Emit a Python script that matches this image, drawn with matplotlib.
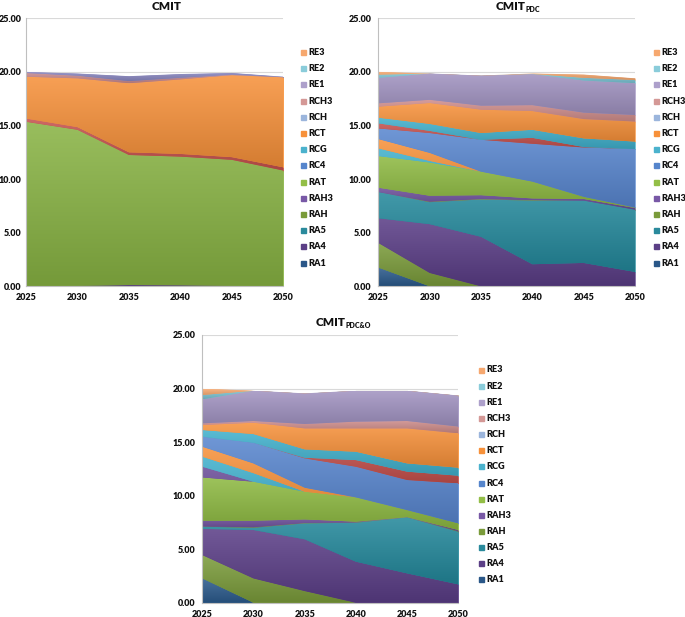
import numpy as np
import matplotlib.pyplot as plt
from matplotlib.colors import to_rgb
from matplotlib.patches import Rectangle

plt.rcParams['font.family'] = ['Lato', 'DejaVu Sans']

years = [2025, 2030, 2035, 2040, 2045, 2050]

# --- CMIT (layer thicknesses, bottom -> top)
cmit_ra4 = [0.0, 0.05, 0.12, 0.10, 0.05, 0.0]
cmit_rat = [15.35, 14.55, 12.13, 12.0, 11.75, 10.8]
cmit_rc2 = [0.3, 0.25, 0.25, 0.25, 0.25, 0.3]
cmit_rct = [3.9, 4.55, 6.44, 6.95, 7.65, 8.4]
cmit_rch3 = [0.35, 0.25, 0.2, 0.15, 0.05, 0.02]
cmit_rch = [0.1, 0.2, 0.46, 0.35, 0.15, 0.03]

# --- CMIT_PDC
pdc_ra1 = [1.75, 0, 0, 0, 0, 0]
pdc_rah = [2.3, 1.25, 0, 0, 0, 0]
pdc_ra4 = [2.3, 4.55, 4.62, 2.06, 2.18, 1.34]
pdc_ra5 = [2.45, 2.05, 3.48, 5.94, 5.82, 5.81]
pdc_rah_b = [0, 0.05, 0.05, 0.05, 0, 0]
pdc_rah3 = [0.4, 0.55, 0.35, 0.15, 0.15, 0.15]
pdc_rat = [2.95, 3.1, 2.2, 1.57, 0.2, 0.05]
pdc_rcg = [0.72, 0.15, 0, 0, 0, 0]
pdc_rct = [0.87, 0.75, 0, 0, 0, 0]
pdc_rc4 = [0.99, 1.85, 2.97, 3.53, 4.6, 5.45]
pdc_rc2 = [0.47, 0.2, 0, 0.55, 0.05, 0]
pdc_rcg_b = [0.53, 0.65, 0.63, 0.75, 0.8, 0.7]
pdc_rct_b = [1.03, 1.95, 2.18, 1.75, 1.8, 1.87]
pdc_rch3 = [0.31, 0.3, 0.37, 0.55, 0.6, 0.61]
pdc_re1 = [2.38, 2.45, 2.81, 2.9, 3.0, 2.97]
pdc_re2 = [0.3, 0, 0, 0.02, 0.25, 0.3]
pdc_re3 = [0.25, 0, 0, 0.03, 0.3, 0.15]

# --- CMIT_PDC&O
pdco_ra1 = [2.27, 0, 0, 0, 0, 0]
pdco_rah = [2.18, 2.27, 1.09, 0, 0, 0]
pdco_ra4 = [2.45, 4.52, 4.83, 3.83, 2.74, 1.71]
pdco_ra5 = [0.2, 0.21, 1.49, 3.64, 5.23, 4.92]
pdco_rah_b = [0.03, 0.05, 0.04, 0.03, 0, 0.05]
pdco_rah3 = [0.53, 0.61, 0.33, 0.07, 0.03, 0.11]
pdco_rat = [4.04, 3.64, 2.59, 2.27, 0.65, 0.62]
pdco_rah3_b = [1.0, 0, 0, 0, 0, 0]
pdco_rcg = [0.94, 0.8, 0, 0, 0, 0]
pdco_rct = [0.93, 0.91, 0.37, 0, 0, 0]
pdco_rc4 = [0.93, 1.93, 2.74, 2.86, 2.81, 3.74]
pdco_rc2 = [0, 0, 0.06, 0.62, 0.78, 0.71]
pdco_rcg_b = [0.63, 0.81, 0.78, 0.78, 0.77, 0.75]
pdco_rct_b = [0.47, 1.06, 1.96, 2.18, 3.27, 3.21]
pdco_rch3 = [0.15, 0.16, 0.41, 0.63, 0.69, 0.63]
pdco_re1 = [2.24, 2.83, 2.86, 2.89, 2.83, 2.9]
pdco_re2 = [0.41, 0, 0, 0, 0, 0]
pdco_re3 = [0.59, 0, 0, 0, 0, 0]

legend_labels = ['RE3', 'RE2', 'RE1', 'RCH3', 'RCH', 'RCT', 'RCG',
                 'RC4', 'RAT', 'RAH3', 'RAH', 'RA5', 'RA4', 'RA1']
legend_colors = ['#F6A86F', '#8ACCDA', '#ADA0CB', '#D49896', '#9BB5DC',
                 '#F7913A', '#4BB2CD', '#5585CC', '#93BE47', '#7858A6',
                 '#7A9B3A', '#2A8A9C', '#5B3F86', '#2A5788']

# layer colours
c_ra1, c_rah, c_ra4, c_ra5 = '#2B5A8C', '#7A9B3A', '#5A3D86', '#23889B'
c_rah3, c_rat, c_rcg, c_rct = '#6A4C98', '#8DB941', '#40B0CC', '#F7913A'
c_rc4, c_rc2, c_rch3, c_re1 = '#5886CF', '#C4504C', '#CE8C8A', '#A092C0'
c_re2, c_re3 = '#7CC4D4', '#F6A86F'

W, H = 685, 617
fig = plt.figure(figsize=(W / 100, H / 100), dpi=100)


def add_axes(left, right, top, bottom):
    return fig.add_axes([left / W, 1 - bottom / H, (right - left) / W, (bottom - top) / H])


def style(ax, ypad=5):
    ax.set_xlim(2025, 2050)
    ax.set_ylim(0, 25)
    ax.set_xticks(years)
    ax.set_yticks([0, 5, 10, 15, 20, 25])
    ax.set_yticklabels(['%.2f' % v for v in [0, 5, 10, 15, 20, 25]])
    ax.grid(axis='y', color='#D9D9D9', lw=0.8)
    ax.set_axisbelow(True)
    for s in ['top', 'right']:
        ax.spines[s].set_visible(False)
    ax.spines['left'].set_color('#BFBFBF')
    ax.spines['bottom'].set_color('#BFBFBF')
    ax.tick_params(length=0, labelsize=6.5, colors='#111111', pad=5)
    ax.tick_params(axis='y', pad=ypad)
    for lab in ax.get_xticklabels() + ax.get_yticklabels():
        lab.set_fontweight('heavy')


def shade(col):
    # Excel-like vertical gradient: lighter on top, darker at the bottom
    c = np.array(to_rgb(col))
    top = c + (1 - c) * 0.14
    bot = c * 0.86
    t = np.linspace(0, 1, 64)[:, None]
    return (top * (1 - t) + bot * t)[:, None, :]


def draw(ax, layers, colors, ypad=5):
    polys = ax.stackplot(years, *layers, colors=colors, linewidth=0)
    for p, c in zip(polys, colors):
        p.set_edgecolor(c)
        p.set_linewidth(0.3)
        path = p.get_paths()[0]
        ext = path.get_extents()
        if ext.height <= 0:
            continue
        im = ax.imshow(shade(c), extent=[2025, 2050, ext.y0, ext.y1], origin='upper',
                       aspect='auto', interpolation='bilinear', zorder=p.get_zorder())
        im.set_clip_path(path, transform=ax.transData)
    style(ax, ypad)


def legend(x_text, y_first, step):
    for i, (lab, col) in enumerate(zip(legend_labels, legend_colors)):
        y = y_first + i * step
        fig.patches.append(Rectangle(((x_text - 7.5) / W, 1 - (y + 2.5) / H), 5 / W, 5 / H,
                                     transform=fig.transFigure, color=col))
        fig.text(x_text / W, 1 - y / H, lab, fontsize=6.6, fontweight='heavy',
                 color='#111111', va='center', ha='left')


def title(x_split, y, sub):
    fig.text(x_split / W, 1 - y / H, 'CMIT', fontsize=8.5, fontweight='heavy',
             ha='right', va='center', color='#111111')
    if sub:
        fig.text(x_split / W, 1 - (y + 3) / H, sub, fontsize=5, fontweight='heavy',
                 ha='left', va='center', color='#111111')


ax1 = add_axes(26, 283.3, 18.3, 286.3)
draw(ax1, [cmit_ra4, cmit_rat, cmit_rc2, cmit_rct, cmit_rch3, cmit_rch],
     [c_ra4, '#88B343', c_rc2, c_rct, '#C98A8E', '#8A88C2'], ypad=3.5)
title(182, 6, '')
legend(308.5, 52.5, 16.2)

ax2 = add_axes(378.3, 635, 18.3, 286.3)
draw(ax2, [pdc_ra1, pdc_rah, pdc_ra4, pdc_ra5, pdc_rah_b, pdc_rah3, pdc_rat, pdc_rcg,
           pdc_rct, pdc_rc4, pdc_rc2, pdc_rcg_b, pdc_rct_b, pdc_rch3, pdc_re1, pdc_re2, pdc_re3],
     [c_ra1, c_rah, c_ra4, c_ra5, c_rah, c_rah3, c_rat, c_rcg,
      c_rct, c_rc4, c_rc2, c_rcg, c_rct, c_rch3, c_re1, c_re2, c_re3])
title(525, 6, 'PDC')
legend(661.5, 52.5, 16.2)

ax3 = add_axes(202.3, 458.3, 335, 602.7)
draw(ax3, [pdco_ra1, pdco_rah, pdco_ra4, pdco_ra5, pdco_rah_b, pdco_rah3, pdco_rat, pdco_rah3_b,
           pdco_rcg, pdco_rct, pdco_rc4, pdco_rc2, pdco_rcg_b, pdco_rct_b, pdco_rch3, pdco_re1,
           pdco_re2, pdco_re3],
     [c_ra1, c_rah, c_ra4, c_ra5, c_rah, c_rah3, c_rat, c_rah3,
      c_rcg, c_rct, c_rc4, c_rc2, c_rcg, c_rct, c_rch3, c_re1, c_re2, c_re3])
title(345, 322, 'PDC&O')
legend(486, 370, 16.15)

fig.savefig('out.png', dpi=100)
